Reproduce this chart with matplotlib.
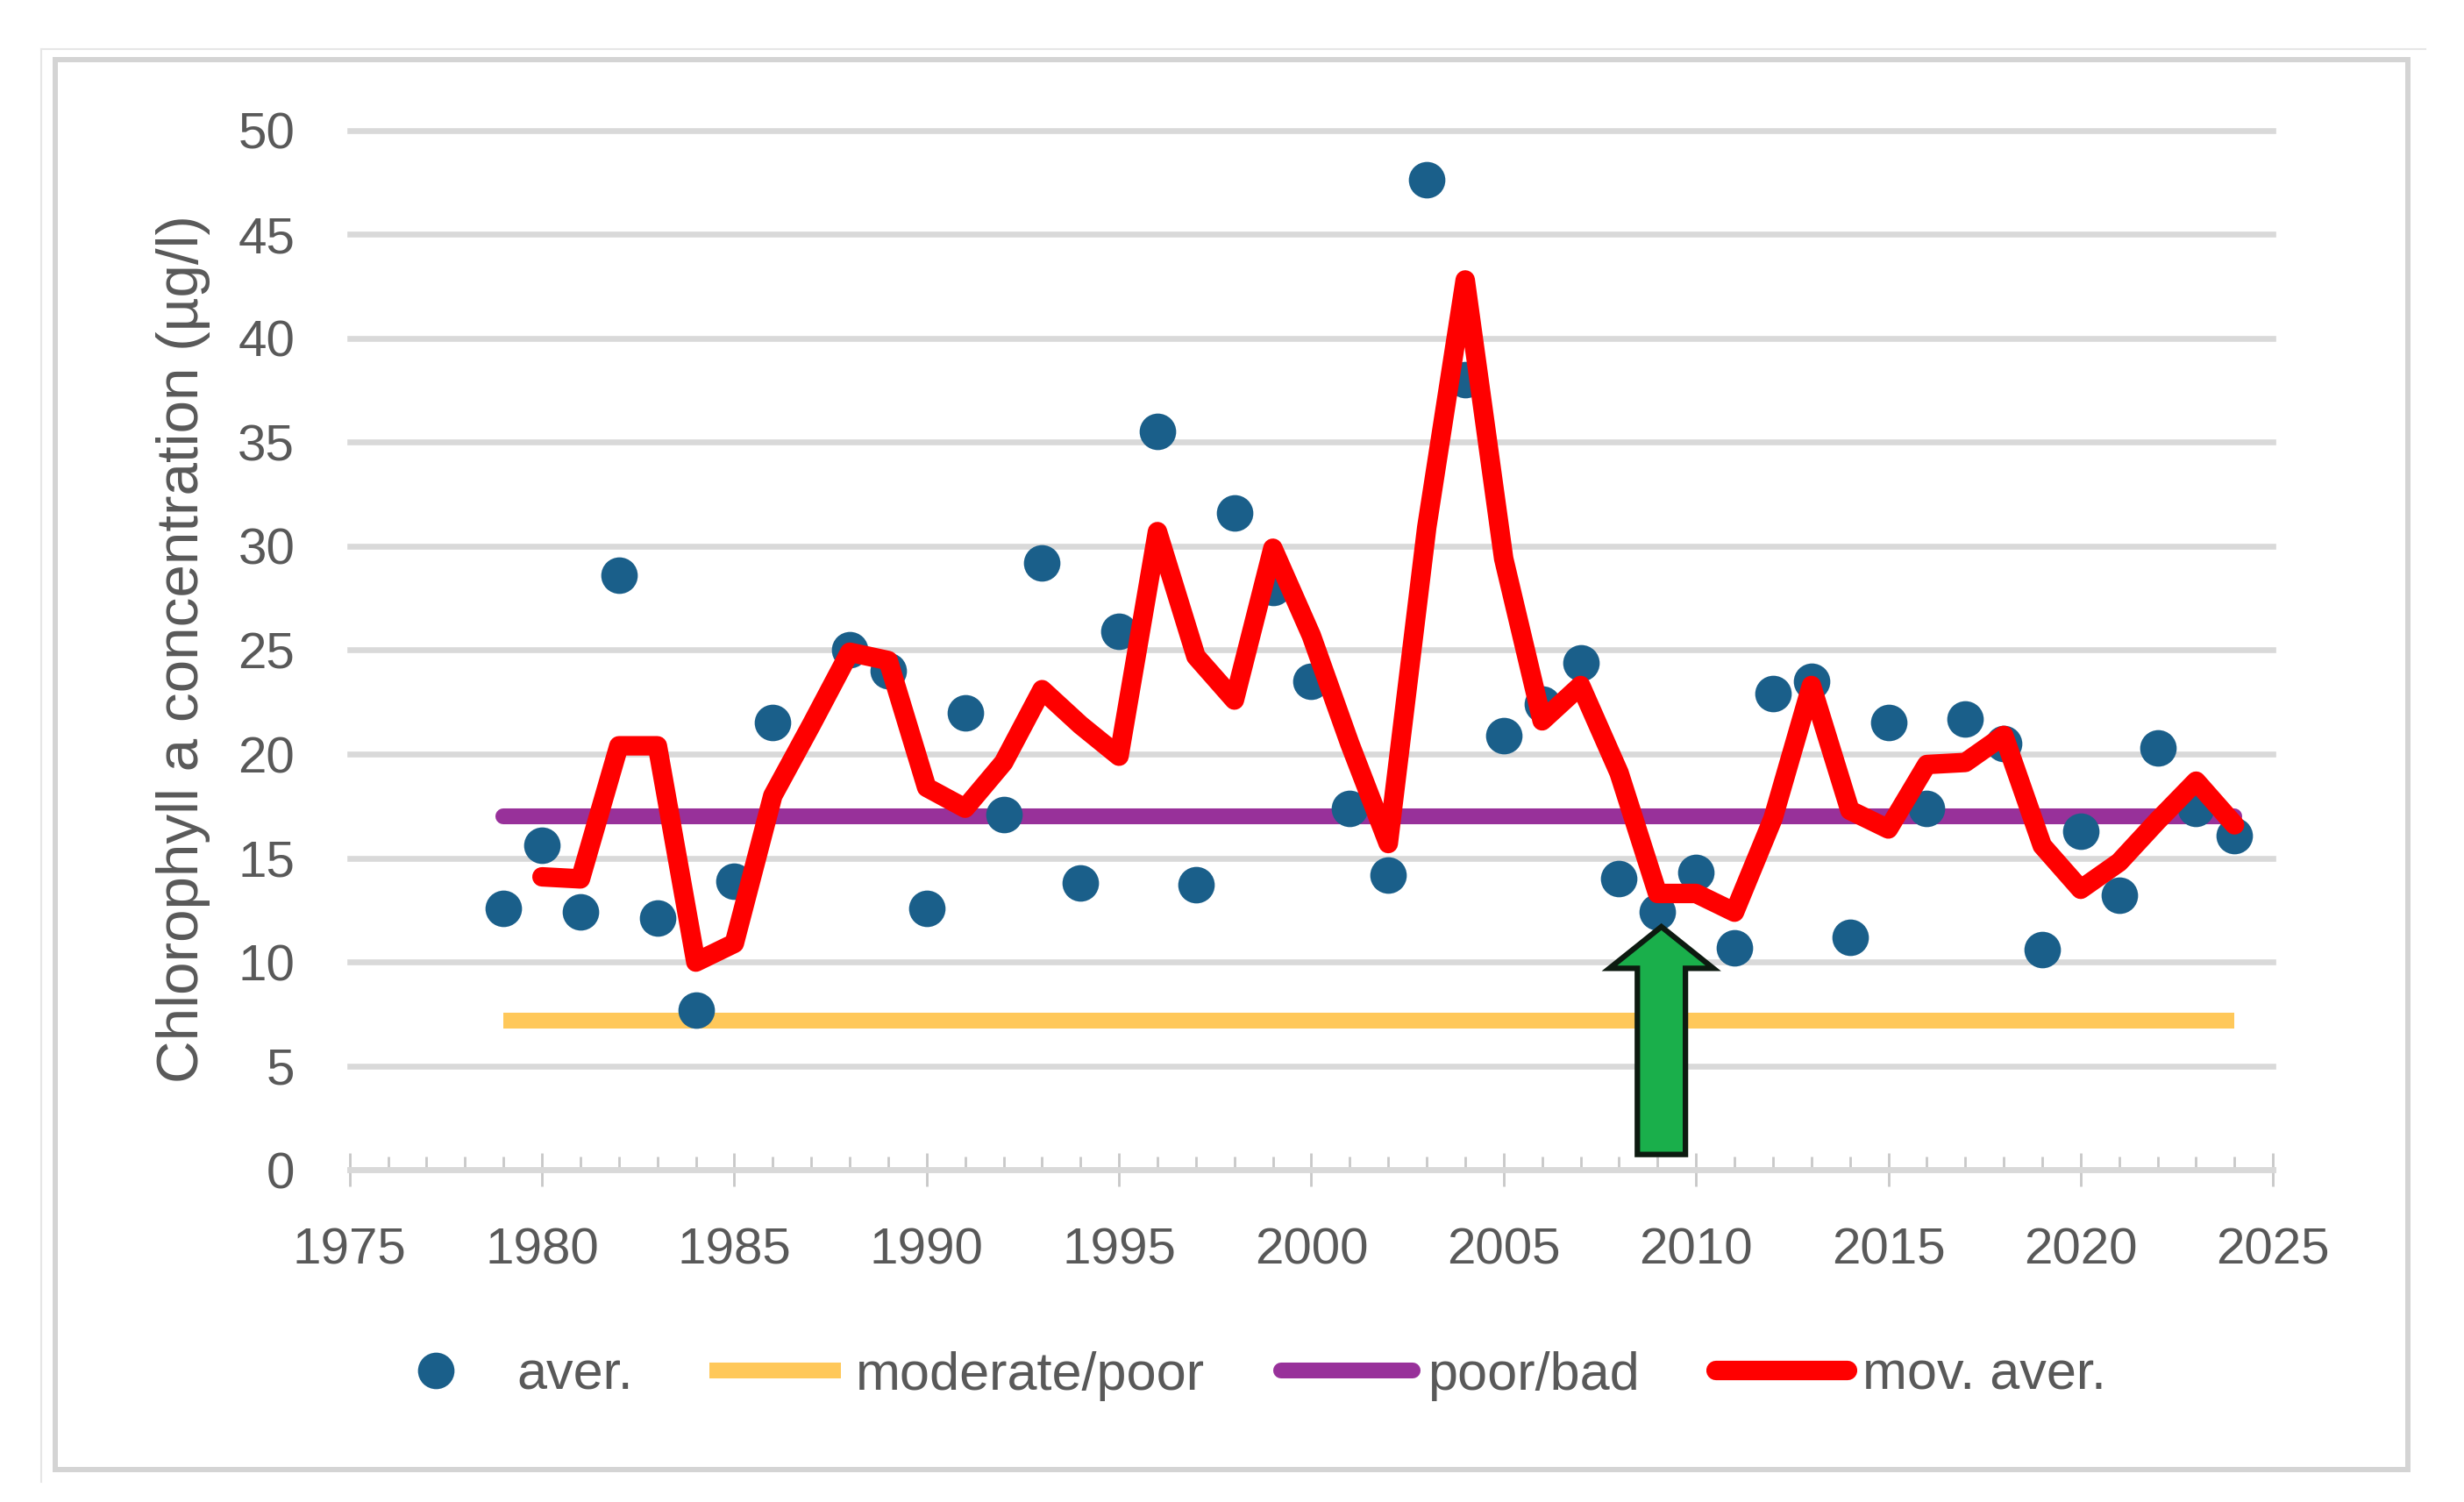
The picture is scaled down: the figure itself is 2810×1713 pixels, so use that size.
import numpy as np
import matplotlib
matplotlib.use("Agg")
import matplotlib.pyplot as plt
from matplotlib.patches import FancyArrow, Rectangle
from matplotlib.lines import Line2D
from matplotlib.ticker import MultipleLocator

plt.rcParams['font.family'] = ['Liberation Sans', 'DejaVu Sans']

# Jahresmittel Chlorophyll a (µg/l), 1987 fehlt
years = np.arange(1979, 2025)
aver = [12.6, 15.6, 12.4, 28.6, 12.1, 7.7, 13.9, 21.5, np.nan, 25.0,
        24.0, 12.6, 22.0, 17.1, 29.2, 13.8, 25.9, 35.5, 13.7, 31.6,
        28.0, 23.5, 17.4, 14.2, 47.6, 38.0, 20.9, 22.4, 24.4, 14.0,
        12.4, 14.3, 10.7, 22.9, 23.5, 11.2, 21.5, 17.4, 21.7, 20.5,
        10.6, 16.3, 13.2, 20.3, 17.4, 16.1]

# gleitender Mittelwert (rote Linie)
ma_years = np.arange(1980, 2025)
mov_aver = [14.1, 14.0, 20.4, 20.4, 10.0, 10.9, 18.0, 21.4, 24.9, 24.5,
            18.4, 17.4, 19.6, 23.1, 21.4, 19.9, 30.7, 24.7, 22.6, 29.9,
            25.7, 20.5, 15.7, 30.9, 42.8, 29.4, 21.6, 23.3, 19.1, 13.3,
            13.3, 12.4, 16.9, 23.3, 17.3, 16.4, 19.5, 19.6, 20.9, 15.6,
            13.5, 14.8, 16.8, 18.7, 16.6]

# Grenzwerte
moderate_poor = 7.2
poor_bad = 17.0

# Pfeil (Markierung 2009)
arrow_year = 2009.1
arrow_base = 0.75
arrow_tip = 11.7

labels = ["aver.", "moderate/poor", "poor/bad", "mov. aver."]
text_col = "#595959"
grid_col = "#d9d9d9"

fig = plt.figure(figsize=(28.1, 17.13), dpi=100)
ax = fig.add_axes([0.1419, 0.2210, 0.7806, 0.6923])

# Linien und Punkte
h_mp, = ax.plot([years[0], years[-1]], [moderate_poor, moderate_poor],
                color="#ffc85a", lw=13, solid_capstyle="butt", zorder=2)
h_pb, = ax.plot([years[0], years[-1]], [poor_bad, poor_bad],
                color="#98319a", lw=13, solid_capstyle="round", zorder=2)
h_dots, = ax.plot(years, aver, linestyle="none", marker="o", markersize=30,
                  color="#1a5f8a", markeredgewidth=0, zorder=3)
h_ma, = ax.plot(ma_years, mov_aver, color="#ff0000", lw=16,
                solid_joinstyle="round", solid_capstyle="round", zorder=4)

# Pfeil
ax.add_patch(FancyArrow(arrow_year, arrow_base, 0, arrow_tip - arrow_base,
                        width=1.25, head_width=2.7, head_length=2.0,
                        length_includes_head=True, fc="#1aaf4b", ec="#0d1a10",
                        lw=4.5, zorder=6, clip_on=False))

# Achsen
ax.set_xlim(1975, 2025)
ax.set_ylim(0, 50)
ax.set_yticks(np.arange(0, 51, 5))
ax.xaxis.set_major_locator(MultipleLocator(5))
ax.xaxis.set_minor_locator(MultipleLocator(1))
ax.yaxis.grid(True, color=grid_col, lw=4.8)
ax.set_axisbelow(True)
for gl in ax.get_ygridlines():
    gl.set_clip_on(False)

for s in ["top", "left", "right"]:
    ax.spines[s].set_visible(False)
ax.spines["bottom"].set_color(grid_col)
ax.spines["bottom"].set_linewidth(4.8)

ax.tick_params(axis="x", which="major", direction="inout", length=27, width=2,
               color="#c8c8c8", pad=33.5, labelsize=42, labelcolor=text_col)
ax.tick_params(axis="x", which="minor", direction="in", length=11, width=2,
               color="#c8c8c8")
ax.tick_params(axis="y", length=0, pad=45, labelsize=42, labelcolor=text_col)

fig.text(0.0744, 0.568, "Chlorophyll a concentration (µg/l)", rotation=90,
         ha="center", va="center", fontsize=48.5, color=text_col)

# Legende
fig.legend([h_dots, h_mp, h_pb, h_ma], labels, loc="center",
           bbox_to_anchor=(0.5025, 1 - 1569 / 1713), ncol=4, frameon=False,
           fontsize=44, handlelength=2.46, handletextpad=0.28,
           columnspacing=1.42, labelcolor=text_col, numpoints=1)

# Rahmen
fig.add_artist(Rectangle((63 / 2810, 1 - 1676 / 1713), (2746 - 63) / 2810,
                         (1676 - 68) / 1713, transform=fig.transFigure,
                         fill=False, edgecolor="#d4d4d4", lw=4.3))
fig.add_artist(Line2D([47 / 2810, 2766 / 2810], [1 - 56 / 1713] * 2,
                      transform=fig.transFigure, color="#e6e6e6", lw=1.5))
fig.add_artist(Line2D([47 / 2810] * 2, [1 - 56 / 1713, 1 - 1690 / 1713],
                      transform=fig.transFigure, color="#e6e6e6", lw=1.5))

fig.savefig("out.png", dpi=100)
